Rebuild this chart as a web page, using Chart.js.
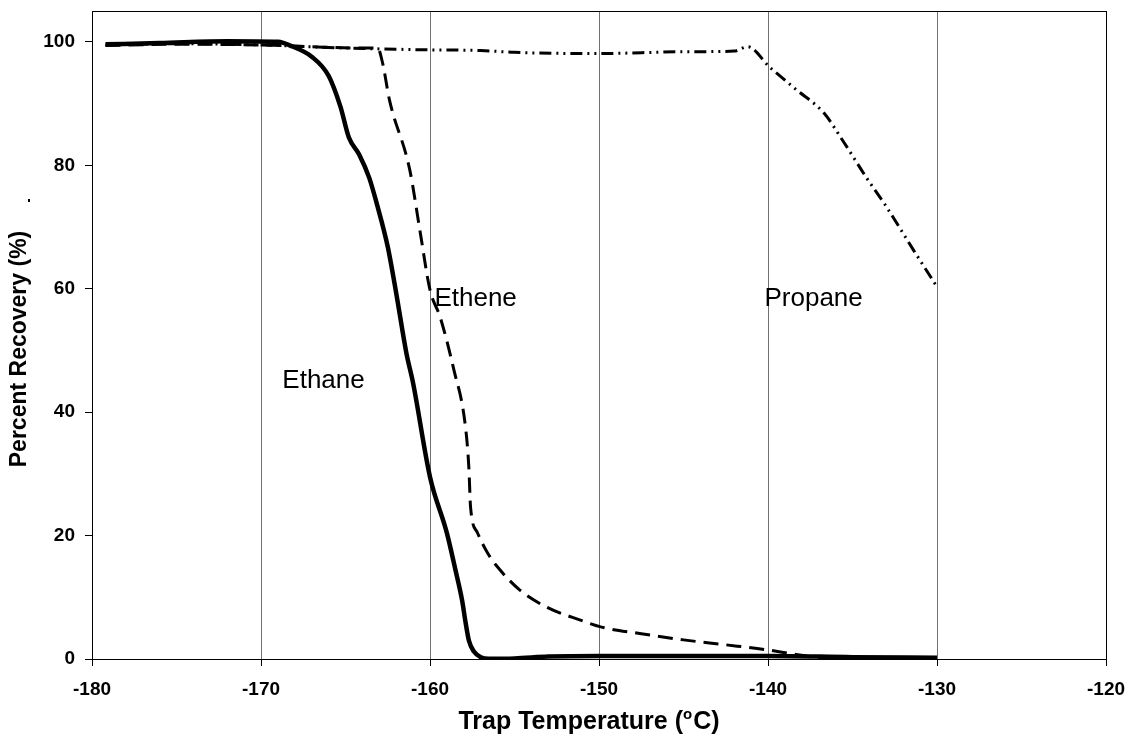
<!DOCTYPE html>
<html>
<head>
<meta charset="utf-8">
<script src="https://cdn.jsdelivr.net/npm/chart.js@4.4.1/dist/chart.umd.min.js"></script>
<style>
  html, body { margin: 0; padding: 0; background: #fff; }
  #wrap { width: 1130px; height: 736px; }
</style>
</head>
<body>
<div id="wrap"><canvas id="c"></canvas></div>
<script>
// trap temperature (C) vs percent recovery
var ethaneT = [-179.2, -176, -172, -169, -168.1, -167, -166, -165.3, -164.8, -164.2, -163.6, -163.1, -162.5, -162.0, -161.4, -161.0, -160.0, -159.0, -158.5, -158.1, -157.9, -157.7, -157.4, -157.0, -156.5, -155, -153, -150, -145, -140, -135, -130];
var ethaneR = [99.6, 99.8, 100.1, 100.0, 99.2, 97.6, 94.5, 89.5, 84.5, 81.8, 78.0, 73.3, 66.8, 59.3, 49.6, 44.7, 29.5, 20.4, 14.5, 9.5, 6.0, 3.0, 1.2, 0.3, 0.05, 0.1, 0.4, 0.5, 0.5, 0.5, 0.3, 0.2];

var etheneT = [-179.2, -175, -170, -167, -164, -163.1, -162.8, -162.4, -161.2, -160.6, -160.0, -159.4, -158.6, -157.9, -157.7, -157.6, -157.2, -156.6, -156.0, -154.7, -153.1, -151.1, -149.9, -147.5, -145.0, -142.5, -140.1, -138.5, -137.1, -135.1, -132.5, -130];
var etheneR = [99.4, 99.6, 99.5, 99.2, 99.0, 99.0, 96.5, 90.6, 79.3, 69.5, 59.8, 55.4, 47.0, 37.6, 31.0, 24.6, 20.5, 17.2, 14.9, 11.2, 8.4, 6.3, 5.2, 4.1, 3.1, 2.3, 1.5, 0.8, 0.3, 0.1, 0.05, 0];

var propaneT = [-179.2, -175, -170, -165, -162, -160, -157, -155, -150, -145, -142, -141.2, -139.9, -138.3, -136.7, -135.6, -134.2, -133.0, -131.4, -130];
var propaneR = [99.5, 99.7, 99.5, 99.0, 98.8, 98.7, 98.6, 98.3, 98.1, 98.4, 98.5, 99.2, 95.9, 92.2, 88.5, 84.1, 78.1, 73.3, 66.3, 60.3];

var yTicks = [0, 20, 40, 60, 80, 100];
var xTitle = "Trap Temperature (";
var yTitle = "Percent Recovery (%)";

// curve labels placed in data units
var labelText = ["Ethane", "Ethene", "Propane"];
var labelT = [-166.3, -157.3, -137.3];
var labelR = [45, 58.3, 58.3];

function pts(xs, ys) {
    return xs.map((x, i) => ({x: x, y: ys[i]}));
}

var FONT = "'Liberation Sans', Arial, sans-serif";

var decor = {
    id: "decor",
    afterDraw: function(chart) {
        var ctx = chart.ctx;
        var a = chart.chartArea;
        var xs = chart.scales.x, ys = chart.scales.y;
        ctx.save();
        // box around plot
        ctx.strokeStyle = "#000";
        ctx.lineWidth = 1;
        ctx.strokeRect(a.left + 0.5, a.top + 0.5, a.right - a.left, a.bottom - a.top);

        // curve labels
        ctx.fillStyle = "#000";
        ctx.font = "26px " + FONT;
        ctx.textAlign = "center";
        ctx.textBaseline = "middle";
        labelText.forEach(function(t, i) {
            ctx.fillText(t, xs.getPixelForValue(labelT[i]), ys.getPixelForValue(labelR[i]));
        });

        // x title with superscript o
        var big = "bold 25px " + FONT, small = "bold 15px " + FONT;
        ctx.textAlign = "left";
        ctx.textBaseline = "alphabetic";
        var sup = "o", tail = "C)";
        ctx.font = big;
        var w1 = ctx.measureText(xTitle).width;
        var w3 = ctx.measureText(tail).width;
        ctx.font = small;
        var w2 = ctx.measureText(sup).width + 1;
        var cx = (a.left + a.right) / 2 - 10;
        var x0 = cx - (w1 + w2 + w3) / 2;
        var base = 729;
        ctx.font = big;
        ctx.fillText(xTitle, x0, base);
        ctx.fillText(tail, x0 + w1 + w2, base);
        ctx.font = small;
        ctx.fillText(sup, x0 + w1, base - 10);

        // y title
        ctx.font = "bold 23px " + FONT;
        ctx.translate(20, (a.top + a.bottom) / 2 + 14);
        ctx.rotate(-Math.PI / 2);
        ctx.textAlign = "center";
        ctx.textBaseline = "middle";
        ctx.fillText(yTitle, 0, 0);
        ctx.restore();

        // stray dot left of the axis
        ctx.save();
        ctx.fillStyle = "#000";
        ctx.fillRect(28, 199, 2, 3);
        ctx.restore();
    }
};

var chart = new Chart(document.getElementById("c"), {
    type: "scatter",
    data: {
        datasets: [
        {
            label: "Propane",
            data: pts(propaneT, propaneR),
            showLine: true,
            borderColor: "#000",
            borderWidth: 3,
            borderDash: [12, 5, 2, 5, 2, 5],
            pointRadius: 0,
            cubicInterpolationMode: "monotone",
        },
        {
            label: "Ethene",
            data: pts(etheneT, etheneR),
            showLine: true,
            borderColor: "#000",
            borderWidth: 3,
            borderDash: [15, 8],
            pointRadius: 0,
            cubicInterpolationMode: "monotone",
        },
        {
            label: "Ethane",
            data: pts(ethaneT, ethaneR),
            showLine: true,
            borderColor: "#000",
            borderWidth: 4.5,
            pointRadius: 0,
            cubicInterpolationMode: "monotone",
        },
        ]
    },
    options: {
        responsive: true,
        maintainAspectRatio: false,
        animation: false,
        layout: {
            padding: {left: 0, right: 24, top: 11, bottom: 0}
        },
        scales: {
            x: {
                type: "linear",
                min: -180,
                max: -120,
                ticks: {
                    stepSize: 10,
                    padding: 12,
                    color: "#000",
                    font: {family: FONT, size: 19, weight: "bold"},
                },
                grid: {
                    color: "#707070",
                    tickColor: "#000",
                    tickLength: 7,
                },
                border: {color: "#000", width: 1},
                afterFit: function(s) {
                    s.height = 77;
                    s.paddingLeft = 0;
                    s.paddingRight = 0;
                },
            },
            y: {
                type: "linear",
                min: 0,
                max: 105,
                afterBuildTicks: function(s) {
                    s.ticks = yTicks.map(v => ({value: v}));
                },
                ticks: {
                    padding: 10,
                    color: "#000",
                    font: {family: FONT, size: 19, weight: "bold"},
                },
                grid: {
                    drawOnChartArea: false,
                    tickColor: "#000",
                    tickLength: 7,
                },
                border: {color: "#000", width: 1},
                afterFit: function(s) {
                    s.width = 92;
                    s.paddingTop = 0;
                    s.paddingBottom = 0;
                },
            }
        },
        plugins: {
            legend: {display: false},
            tooltip: {enabled: false},
        }
    },
    plugins: [decor]
});
</script>
</body>
</html>
